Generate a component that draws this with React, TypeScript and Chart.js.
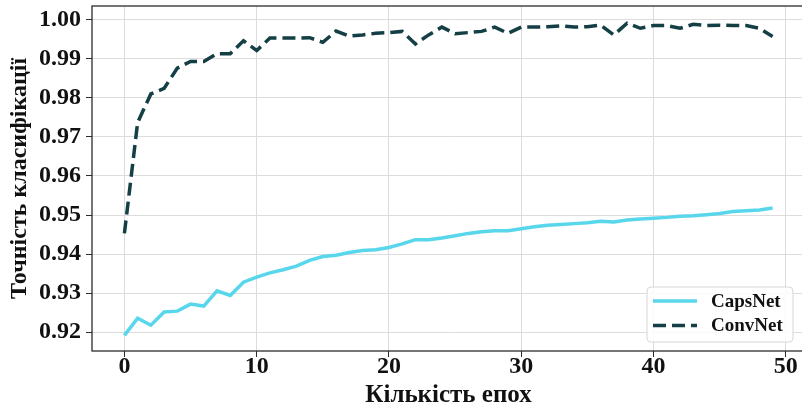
import React, { useEffect, useRef } from 'react';
import { Chart, registerables } from 'chart.js';

Chart.register(...registerables);

const epochs = [
  0, 1, 2, 3, 4, 5, 6, 7, 8, 9, 10, 11, 12, 13, 14, 15, 16, 17, 18, 19, 20, 21, 22, 23, 24,
  25, 26, 27, 28, 29, 30, 31, 32, 33, 34, 35, 36, 37, 38, 39, 40, 41, 42, 43, 44, 45, 46, 47, 48, 49,
];

const capsNet = [
  0.9192, 0.9236, 0.9218, 0.9252, 0.9254, 0.9272, 0.9267, 0.9306, 0.9294, 0.9328,
  0.9341, 0.9352, 0.936, 0.9369, 0.9384, 0.9394, 0.9397, 0.9404, 0.9409, 0.9411,
  0.9417, 0.9426, 0.9437, 0.9437, 0.9441, 0.9447, 0.9453, 0.9457, 0.946, 0.946,
  0.9465, 0.947, 0.9474, 0.9476, 0.9478, 0.948, 0.9484, 0.9482, 0.9487, 0.949,
  0.9492, 0.9494, 0.9497, 0.9498, 0.9501, 0.9504, 0.9509, 0.9511, 0.9513, 0.9518,
];

const convNet = [
  0.9453, 0.9737, 0.981, 0.9824, 0.9876, 0.9893, 0.9893, 0.9913, 0.9913, 0.9946,
  0.9921, 0.9953, 0.9953, 0.9953, 0.9954, 0.9942, 0.9971, 0.9958, 0.9961, 0.9965,
  0.9967, 0.997, 0.9938, 0.9961, 0.9981, 0.9964, 0.9967, 0.997, 0.9981, 0.9965,
  0.9981, 0.9981, 0.9982, 0.9984, 0.9981, 0.9982, 0.9986, 0.9961, 0.9991, 0.9978,
  0.9985, 0.9985, 0.9978, 0.9988, 0.9985, 0.9986, 0.9985, 0.9985, 0.9978, 0.9957,
];

const seriesNames = ['CapsNet', 'ConvNet'];
const xTicks = [0, 10, 20, 30, 40, 50];
const yTicks = [0.92, 0.93, 0.94, 0.95, 0.96, 0.97, 0.98, 0.99, 1.0];
const xTitle = 'Кількість епох';
const yTitle = 'Точність класифікації';

const FONT = "'Liberation Serif', 'Times New Roman', serif";
const CAPS_COLOR = '#58d6ec';
const CONV_COLOR = '#133f45';

const framePlugin = {
  id: 'frameAndLegend',
  afterDatasetsDraw(chart: any) {
    const { ctx, chartArea: a } = chart;
    ctx.save();
    ctx.strokeStyle = '#2b2b2b';
    ctx.lineWidth = 1.3;
    ctx.strokeRect(a.left, a.top, a.right - a.left, a.bottom - a.top);

    // legend box
    const bw = 146;
    const bh = 55;
    const bx = a.right - 12 - bw;
    const by = a.bottom - 9 - bh;
    ctx.beginPath();
    (ctx as any).roundRect(bx, by, bw, bh, 4);
    ctx.fillStyle = 'rgba(255,255,255,0.85)';
    ctx.fill();
    ctx.strokeStyle = '#d6d6d6';
    ctx.lineWidth = 1;
    ctx.stroke();

    const items = chart.data.datasets;
    items.forEach((ds: any, i: number) => {
      const cy = by + 14 + i * 24.5;
      ctx.beginPath();
      ctx.setLineDash(ds.borderDash || []);
      ctx.strokeStyle = ds.borderColor;
      ctx.lineWidth = ds.borderWidth;
      ctx.moveTo(bx + 6, cy);
      ctx.lineTo(bx + 50, cy);
      ctx.stroke();
      ctx.setLineDash([]);
      ctx.fillStyle = '#111';
      ctx.font = `bold 19px ${FONT}`;
      ctx.textBaseline = 'middle';
      ctx.textAlign = 'left';
      ctx.fillText(ds.label, bx + 64, cy + 1);
    });
    ctx.restore();
  },
};

export default function App() {
  const ref = useRef<HTMLCanvasElement>(null);

  useEffect(() => {
    if (!ref.current) return;
    const chart = new Chart(ref.current, {
      type: 'line',
      data: {
        datasets: [
          {
            label: seriesNames[0],
            data: epochs.map((e, i) => ({ x: e, y: capsNet[i] })),
            borderColor: CAPS_COLOR,
            backgroundColor: CAPS_COLOR,
            borderWidth: 3.5,
            pointRadius: 0,
            tension: 0,
          },
          {
            label: seriesNames[1],
            data: epochs.map((e, i) => ({ x: e, y: convNet[i] })),
            borderColor: CONV_COLOR,
            backgroundColor: CONV_COLOR,
            borderWidth: 3.5,
            borderDash: [13, 6],
            pointRadius: 0,
            tension: 0,
          },
        ],
      },
      options: {
        animation: false,
        responsive: false,
        devicePixelRatio: 1,
        layout: { autoPadding: false, padding: { top: 6, right: 10, left: 0, bottom: 0 } },
        plugins: {
          legend: { display: false },
          tooltip: { enabled: false },
        },
        scales: {
          x: {
            type: 'linear',
            min: -2.45,
            max: 51.45,
            afterFit: (s: any) => {
              s.height = 54;
              s.paddingLeft = 0;
              s.paddingRight = 0;
            },
            afterBuildTicks: (s: any) => {
              s.ticks = xTicks.map((v) => ({ value: v }));
            },
            border: { display: false },
            grid: {
              color: '#dcdcdc',
              lineWidth: 1,
              drawTicks: true,
              tickLength: 6,
              tickColor: '#2b2b2b',
            },
            ticks: {
              color: '#111',
              padding: -2,
              font: { family: FONT, size: 24, weight: 'bold', lineHeight: 1 },
              maxRotation: 0,
              callback: (v: any) => String(v),
            },
            title: {
              display: true,
              text: xTitle,
              color: '#111',
              font: { family: FONT, size: 25, weight: 'bold', lineHeight: 1 },
              padding: { top: 0, bottom: -3 },
            },
          },
          y: {
            type: 'linear',
            min: 0.9152,
            max: 1.0035,
            afterFit: (s: any) => {
              s.width = 92;
              s.paddingTop = 0;
              s.paddingBottom = 0;
            },
            afterBuildTicks: (s: any) => {
              s.ticks = yTicks.map((v) => ({ value: v }));
            },
            border: { display: false },
            grid: {
              color: '#dcdcdc',
              lineWidth: 1,
              drawTicks: true,
              tickLength: 6,
              tickColor: '#2b2b2b',
            },
            ticks: {
              color: '#111',
              padding: 5,
              font: { family: FONT, size: 24, weight: 'bold' },
              callback: (v: any) => Number(v).toFixed(2),
            },
            title: {
              display: true,
              text: yTitle,
              color: '#111',
              font: { family: FONT, size: 24, weight: 'bold', lineHeight: 1 },
              padding: { top: 8, bottom: 0 },
            },
          },
        },
      },
      plugins: [framePlugin],
    });
    return () => chart.destroy();
  }, []);

  return (
    <div
      style={{
        position: 'absolute',
        left: 0,
        top: 0,
        width: 802,
        height: 405,
        overflow: 'hidden',
        background: '#fff',
      }}
    >
      <canvas ref={ref} width={815} height={405} style={{ display: 'block' }} />
    </div>
  );
}
